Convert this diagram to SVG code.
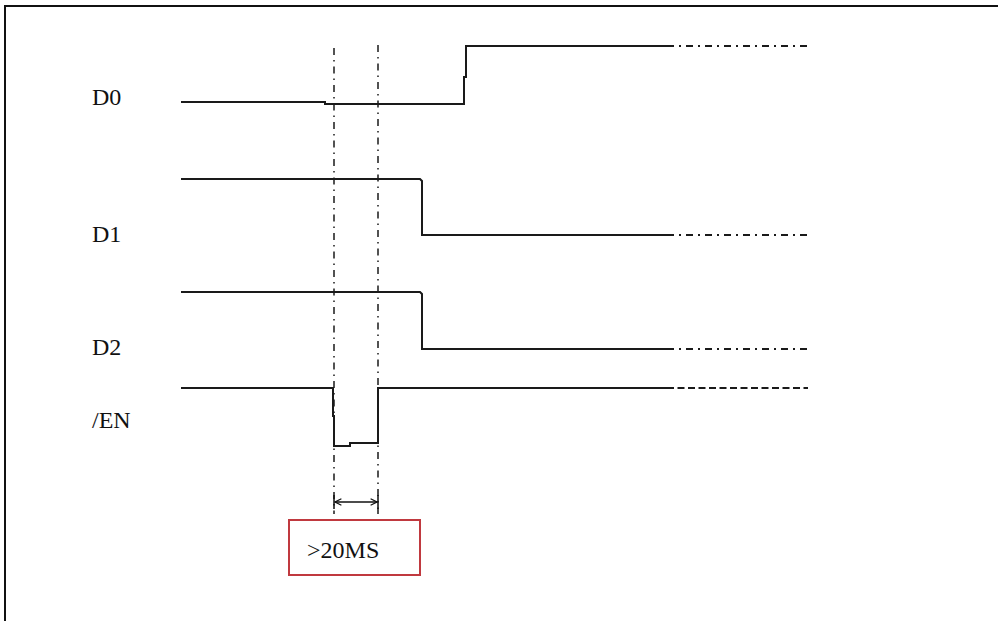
<svg xmlns="http://www.w3.org/2000/svg" width="998" height="621" viewBox="0 0 998 621">
<style>
.sig{fill:none;stroke:#1a1a1a;stroke-width:2}
.ext{fill:none;stroke:#1a1a1a;stroke-width:2;stroke-dasharray:7 5 2 5}
.dash{fill:none;stroke:#1a1a1a;stroke-width:2;stroke-dasharray:7 3.5}
.guide{fill:none;stroke:#1a1a1a;stroke-width:1.5;stroke-dasharray:7 5 1.5 5}
.lbl{font-family:"Liberation Serif",serif;font-size:24px;fill:#111}
</style>
<defs>
<marker id="ah" viewBox="0 0 10 10" refX="9" refY="5" markerWidth="8" markerHeight="8" orient="auto-start-reverse" markerUnits="userSpaceOnUse">
<path d="M1,1 L9,5 L1,9" fill="none" stroke="#111" stroke-width="1.5"/>
</marker>
</defs>
<rect width="998" height="621" fill="#fff"/>
<path d="M5,621 V6 H998" fill="none" stroke="#111" stroke-width="2"/>
<g id="connectors">
<path class="guide" d="M334,48 V514"/>
<path class="guide" d="M378,45 V514"/>
<path d="M334,495 V509 M378,495 V509" stroke="#111" stroke-width="1.5"/>
<path d="M335,502 H377" stroke="#111" stroke-width="1.5" marker-start="url(#ah)" marker-end="url(#ah)"/>
</g>
<g id="D0">
<text class="lbl" x="92" y="105">D0</text>
<path class="sig" d="M181,102 H325 V104 H464 V77 H466 V46 H667"/>
<path class="ext" d="M667,46 H808"/>
</g>
<g id="D1">
<text class="lbl" x="92" y="242">D1</text>
<path class="sig" d="M181,179 H420 L422,181 V235 H667"/>
<path class="ext" d="M667,235 H808"/>
</g>
<g id="D2">
<text class="lbl" x="92" y="355">D2</text>
<path class="sig" d="M181,292 H420 L422,294 V349 H667"/>
<path class="ext" d="M667,349 H808"/>
</g>
<g id="EN">
<text class="lbl" x="92" y="428">/EN</text>
<path class="sig" d="M181,388 H333 V416 H334 V446 H350 V443 H378 V388 H667"/>
<path class="dash" d="M667,388 H808"/>
</g>
<g id="box">
<rect x="289" y="520" width="131" height="55" fill="none" stroke="#c0393f" stroke-width="2"/>
<text class="lbl" x="307" y="558">&gt;20MS</text>
</g>
</svg>
